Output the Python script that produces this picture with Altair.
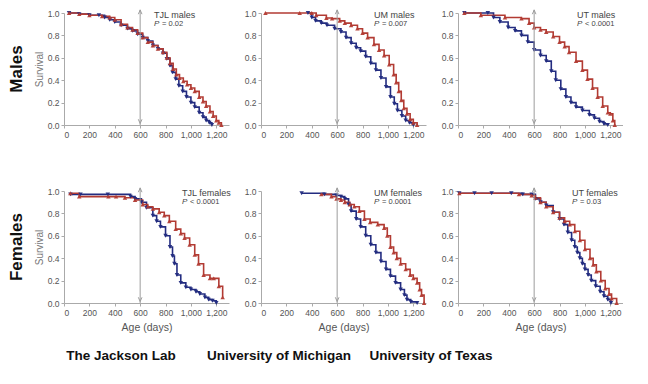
import altair as alt
import pandas as pd

BLUE = "#232c80"
RED = "#b23b33"
GRAY = "#9c9c9c"
FONT = "Liberation Sans"

X_TICKS = [0, 200, 400, 600, 800, 1000, 1200]
Y_TICKS = [0.0, 0.2, 0.4, 0.6, 0.8, 1.0]
ARROW_DAY = 600

panel_names = ["TJL males", "UM males", "UT males", "TJL females", "UM females", "UT females"]
p_values = ["= 0.02", "= 0.007", "< 0.0001", "< 0.0001", "= 0.0001", "= 0.03"]
row_labels = ["Males", "Females"]
col_labels = ["The Jackson Lab", "University of Michigan", "University of Texas"]

# ---- TJL males
tjl_m_blue_day = [40, 120, 200, 275, 320, 360, 400, 450, 500, 540, 580, 620, 660, 700, 740, 780, 810, 835, 855, 880, 905, 935, 965, 1000, 1030, 1065, 1095, 1120, 1145, 1165]
tjl_m_blue_surv = [1.0, 0.99, 0.98, 0.98, 0.96, 0.94, 0.92, 0.89, 0.86, 0.84, 0.81, 0.78, 0.75, 0.71, 0.68, 0.64, 0.59, 0.53, 0.47, 0.41, 0.35, 0.30, 0.25, 0.20, 0.16, 0.11, 0.07, 0.04, 0.02, 0.0]
tjl_m_red_day = [40, 120, 200, 300, 360, 400, 450, 500, 540, 580, 620, 660, 700, 740, 780, 810, 835, 860, 885, 910, 940, 970, 1000, 1030, 1065, 1095, 1120, 1150, 1175, 1200, 1220, 1240]
tjl_m_red_surv = [1.0, 0.99, 0.98, 0.97, 0.96, 0.94, 0.90, 0.87, 0.85, 0.82, 0.78, 0.74, 0.71, 0.68, 0.65, 0.60, 0.55, 0.50, 0.45, 0.42, 0.39, 0.36, 0.33, 0.30, 0.25, 0.21, 0.17, 0.12, 0.08, 0.04, 0.02, 0.0]

# ---- UM males
um_m_blue_day = [370, 400, 430, 475, 520, 580, 630, 670, 710, 750, 785, 825, 865, 905, 945, 985, 1020, 1050, 1075, 1110, 1140, 1170, 1200]
um_m_blue_surv = [1.0, 0.96, 0.93, 0.91, 0.89, 0.86, 0.83, 0.78, 0.73, 0.69, 0.66, 0.61, 0.55, 0.49, 0.42, 0.34, 0.25, 0.19, 0.13, 0.08, 0.04, 0.02, 0.0]
um_m_red_day = [35, 305, 400, 435, 515, 560, 620, 660, 710, 760, 800, 840, 890, 930, 970, 1010, 1045, 1065, 1085, 1105, 1125, 1150, 1175, 1200, 1230]
um_m_red_surv = [1.0, 1.0, 1.0, 0.98, 0.955, 0.95, 0.93, 0.91, 0.89, 0.86, 0.82, 0.78, 0.72, 0.67, 0.62, 0.54, 0.45, 0.38, 0.30, 0.22, 0.15, 0.10, 0.05, 0.02, 0.0]

# ---- UT males
ut_m_blue_day = [50, 235, 280, 330, 395, 450, 500, 550, 600, 650, 695, 735, 770, 810, 850, 890, 930, 980, 1035, 1075, 1115, 1150, 1180]
ut_m_blue_surv = [1.0, 1.0, 0.96, 0.92, 0.87, 0.84, 0.80, 0.74, 0.67, 0.62, 0.57, 0.48, 0.40, 0.32, 0.25, 0.20, 0.16, 0.13, 0.09, 0.06, 0.03, 0.01, 0.0]
ut_m_red_day = [50, 180, 370, 500, 560, 600, 650, 695, 750, 800, 840, 875, 930, 980, 1020, 1060, 1100, 1140, 1180, 1200, 1220, 1235]
ut_m_red_surv = [1.0, 0.98, 0.96, 0.95, 0.91, 0.87, 0.85, 0.83, 0.79, 0.74, 0.70, 0.65, 0.57, 0.49, 0.41, 0.33, 0.25, 0.17, 0.11, 0.10, 0.04, 0.0]

# ---- TJL females
tjl_f_blue_day = [50, 130, 345, 525, 560, 610, 650, 700, 730, 760, 800, 835, 855, 870, 890, 920, 960, 1000, 1040, 1070, 1110, 1140, 1170, 1200]
tjl_f_blue_surv = [0.97, 0.97, 0.97, 0.95, 0.93, 0.90, 0.85, 0.78, 0.73, 0.68, 0.60, 0.50, 0.42, 0.35, 0.25, 0.18, 0.14, 0.12, 0.10, 0.08, 0.05, 0.03, 0.02, 0.0]
tjl_f_red_day = [50, 120, 350, 410, 480, 560, 620, 660, 700, 750, 790, 830, 880, 920, 950, 990, 1030, 1060, 1100, 1150, 1180, 1220, 1250]
tjl_f_red_surv = [0.98, 0.95, 0.95, 0.95, 0.94, 0.92, 0.88, 0.86, 0.84, 0.81, 0.78, 0.73, 0.66, 0.62, 0.58, 0.52, 0.43, 0.35, 0.25, 0.22, 0.22, 0.15, 0.05]

# ---- UM females
um_f_blue_day = [320, 500, 595, 630, 660, 690, 710, 750, 785, 825, 865, 905, 945, 985, 1020, 1060, 1100, 1130, 1150, 1180, 1230]
um_f_blue_surv = [0.98, 0.97, 0.96, 0.95, 0.93, 0.88, 0.82, 0.75, 0.68, 0.60, 0.52, 0.45, 0.37, 0.30, 0.24, 0.18, 0.12, 0.07, 0.03, 0.01, 0.0]
um_f_red_day = [475, 555, 595, 630, 660, 700, 735, 775, 815, 860, 920, 970, 995, 1020, 1045, 1070, 1100, 1140, 1175, 1200, 1230, 1250, 1265, 1285]
um_f_red_surv = [0.97, 0.95, 0.93, 0.92, 0.90, 0.88, 0.86, 0.82, 0.75, 0.72, 0.70, 0.67, 0.60, 0.50, 0.45, 0.40, 0.35, 0.30, 0.25, 0.22, 0.18, 0.12, 0.07, 0.0]

# ---- UT females
ut_f_blue_day = [10, 130, 265, 420, 510, 580, 610, 650, 695, 750, 800, 835, 865, 895, 920, 940, 960, 980, 1000, 1025, 1050, 1085, 1120, 1150, 1180, 1205]
ut_f_blue_surv = [0.98, 0.98, 0.98, 0.98, 0.97, 0.97, 0.93, 0.90, 0.87, 0.81, 0.75, 0.70, 0.63, 0.56, 0.50, 0.45, 0.40, 0.35, 0.30, 0.25, 0.20, 0.15, 0.10, 0.06, 0.03, 0.0]
ut_f_red_day = [10, 480, 580, 610, 650, 695, 750, 800, 840, 880, 920, 960, 1000, 1040, 1065, 1090, 1125, 1160, 1190, 1210, 1250]
ut_f_red_surv = [0.98, 0.97, 0.96, 0.94, 0.90, 0.86, 0.81, 0.76, 0.73, 0.70, 0.64, 0.56, 0.48, 0.40, 0.34, 0.28, 0.20, 0.13, 0.08, 0.04, 0.0]

series = [
    (tjl_m_blue_day, tjl_m_blue_surv, tjl_m_red_day, tjl_m_red_surv),
    (um_m_blue_day, um_m_blue_surv, um_m_red_day, um_m_red_surv),
    (ut_m_blue_day, ut_m_blue_surv, ut_m_red_day, ut_m_red_surv),
    (tjl_f_blue_day, tjl_f_blue_surv, tjl_f_red_day, tjl_f_red_surv),
    (um_f_blue_day, um_f_blue_surv, um_f_red_day, um_f_red_surv),
    (ut_f_blue_day, ut_f_blue_surv, ut_f_red_day, ut_f_red_surv),
]

W, H = 165, 112
LABEL_X = [90, 113, 119, 118, 113, 114]
COL_LABEL_X = [57, 18, -27]


def one(txt):
    return pd.DataFrame({"t": [txt]})


def panel(i):
    row, col = divmod(i, 3)
    bd, bs, rd, rs = series[i]
    df = pd.DataFrame({
        "day": bd + rd,
        "surv": bs + rs,
        "group": ["control"] * len(bd) + ["treated"] * len(rd),
    })
    xscale = alt.Scale(domain=[0, 1300], nice=False, zero=False)
    yscale = alt.Scale(domain=[0, 1], nice=False)
    xaxis = alt.Axis(values=X_TICKS, format=",.0f", labelOverlap=False,
                     title="Age (days)" if row == 1 else None,
                     titleFontSize=10.5, titleFontWeight="normal", titleColor="#555",
                     titlePadding=6)
    yaxis = alt.Axis(values=Y_TICKS, format=".1f", labelOverlap=False,
                     title="Survival" if col == 0 else None,
                     titleFontSize=10, titleFontWeight="normal", titleColor="#777",
                     titlePadding=3)
    X = alt.X("day:Q", scale=xscale, axis=xaxis)
    Y = alt.Y("surv:Q", scale=yscale, axis=yaxis)
    color = alt.Color("group:N", scale=alt.Scale(domain=["control", "treated"], range=[BLUE, RED]), legend=None)
    shape = alt.Shape("group:N", scale=alt.Scale(domain=["control", "treated"], range=["triangle-down", "triangle-up"]), legend=None)

    base = alt.Chart(df)
    lines = base.mark_line(interpolate="step-after", strokeWidth=1.6).encode(
        x=X, y=Y, color=color, detail="group:N")
    pts = base.mark_point(filled=True, size=20, opacity=0.95).encode(
        x=X, y=Y, color=color, shape=shape)

    rule_df = pd.DataFrame({"day": [ARROW_DAY], "surv": [0.0], "top": [1.03]})
    rule = alt.Chart(rule_df).mark_rule(color=GRAY, strokeWidth=1).encode(
        x=X, y=Y, y2="top:Q")
    head_top = alt.Chart(pd.DataFrame({"day": [ARROW_DAY], "surv": [1.0]})).mark_point(
        shape="M-0.6,0.4L0,-1L0.6,0.4", filled=False,
        size=36, color=GRAY, strokeWidth=1, opacity=1).encode(x=X, y=Y)
    head_bot = alt.Chart(pd.DataFrame({"day": [ARROW_DAY], "surv": [0.04]})).mark_point(
        shape="M-0.6,-0.4L0,1L0.6,-0.4", filled=False,
        size=36, color=GRAY, strokeWidth=1, opacity=1).encode(x=X, y=Y)

    name = alt.Chart(one(panel_names[i])).mark_text(
        align="left", baseline="middle", fontSize=9, color="#444", font=FONT).encode(
        x=alt.value(LABEL_X[i]), y=alt.value(2), text="t:N")
    pl = alt.Chart(one("P")).mark_text(
        align="left", baseline="middle", fontSize=8, fontStyle="italic", color="#444", font=FONT).encode(
        x=alt.value(LABEL_X[i]), y=alt.value(11), text="t:N")
    pv = alt.Chart(one(p_values[i])).mark_text(
        align="left", baseline="middle", fontSize=7.5, color="#444", font=FONT).encode(
        x=alt.value(LABEL_X[i] + 8), y=alt.value(11), text="t:N")

    layers = [lines, pts, rule, head_top, head_bot, name, pl, pv]
    if col == 0:
        layers.append(alt.Chart(one(row_labels[row])).mark_text(
            angle=270, align="center", baseline="middle", fontSize=17, fontWeight="bold",
            color="#111", font=FONT).encode(x=alt.value(-47), y=alt.value(H / 2), text="t:N"))
    if row == 1:
        layers.append(alt.Chart(one(col_labels[col])).mark_text(
            align="center", baseline="middle", fontSize=13.5, fontWeight="bold",
            color="#111", font=FONT).encode(
            x=alt.value(COL_LABEL_X[col]), y=alt.value(H + 53), text="t:N"))
    return alt.layer(*layers).properties(width=W, height=H)


chart = alt.concat(*[panel(i) for i in range(6)], columns=3, bounds="flush",
                   spacing={"row": 66, "column": 32}).properties(padding=0).configure_view(
    stroke=None).configure_axis(
    grid=False, labelFont=FONT, titleFont=FONT, labelFontSize=8.5, labelColor="#555",
    domainColor="#aaa", tickColor="#aaa", tickSize=3, labelPadding=2)

chart.save("out.html", embed_options={"renderer": "svg", "actions": False})
